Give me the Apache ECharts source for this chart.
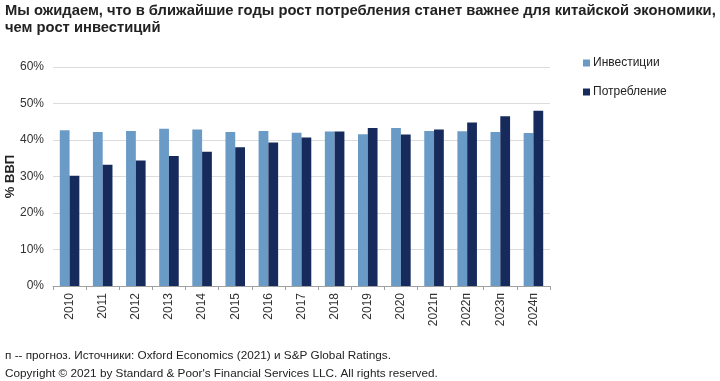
<!DOCTYPE html>
<html><head><meta charset="utf-8">
<script src="https://cdn.jsdelivr.net/npm/echarts@6/dist/echarts.min.js"></script>
<style>html,body{margin:0;padding:0;background:#fff}#c{width:720px;height:381px}</style>
</head><body><div id="c"></div>
<script>
const categories = ['2010','2011','2012','2013','2014','2015','2016','2017','2018','2019','2020','2021п','2022п','2023п','2024п'];
const investments = [42.7,42.2,42.5,43.1,42.9,42.2,42.5,42.0,42.3,41.6,43.3,42.5,42.4,42.2,41.9];
const consumption = [30.2,33.2,34.4,35.6,36.8,38.0,39.3,40.7,42.3,43.3,41.5,42.9,44.8,46.5,48.0];
const yTicks = [0,10,20,30,40,50,60];
const seriesNames = ['Инвестиции','Потребление'];
const titleText = 'Мы ожидаем, что в ближайшие годы рост потребления станет важнее для китайской экономики,\nчем рост инвестиций';
const footer1 = 'п -- прогноз. Источники: Oxford Economics (2021) и S&P Global Ratings.';
const footer2 = 'Copyright © 2021 by Standard & Poor\'s Financial Services LLC. All rights reserved.';

const chart = echarts.init(document.getElementById('c'), null, {renderer:'canvas'});
const font = 'Arial, "Liberation Sans", sans-serif';
chart.setOption({
  animation:false,
  textStyle:{fontFamily:font},
  title:{text:titleText,left:5,top:0,padding:[2,0,0,0],textStyle:{fontSize:14.75,fontWeight:'bold',color:'#222',lineHeight:17,fontFamily:font}},
  legend:{orient:'vertical',left:578,top:52,itemWidth:7,itemHeight:7,itemGap:17,icon:'rect',
    textStyle:{fontSize:12,color:'#222',padding:[0,0,0,-2]},data:seriesNames},
  grid:{left:53,right:170,top:67,bottom:95,containLabel:false,outerBoundsMode:'none'},
  xAxis:{type:'category',data:categories,
    axisLine:{lineStyle:{color:'#a0a0a0'}},
    axisTick:{show:true,length:4,lineStyle:{color:'#a0a0a0'}},
    axisLabel:{rotate:90,fontSize:12,color:'#333',margin:7,interval:0}},
  yAxis:{type:'value',min:yTicks[0],max:yTicks[yTicks.length-1],interval:10,
    name:'% ВВП',nameLocation:'middle',nameGap:36,nameRotate:90,nameMoveOverlap:false,
    nameTextStyle:{fontSize:13,fontWeight:'bold',color:'#222'},
    axisLine:{show:false},axisTick:{show:false},
    axisLabel:{formatter:'{value}%',fontSize:12,color:'#333',margin:9},
    splitLine:{lineStyle:{color:'#dcdcdc'}}},
  series:[
    {name:seriesNames[0],type:'bar',data:investments,itemStyle:{color:'#6a9bc6'},barGap:'0%',barCategoryGap:'41%'},
    {name:seriesNames[1],type:'bar',data:consumption,itemStyle:{color:'#162b5c'}}
  ],
  graphic:[
    {type:'text',left:5,top:350,style:{text:footer1,fontSize:11.75,fill:'#222',fontFamily:font}},
    {type:'text',left:5,top:368,style:{text:footer2,fontSize:11.75,fill:'#222',fontFamily:font}}
  ]
});
</script></body></html>
